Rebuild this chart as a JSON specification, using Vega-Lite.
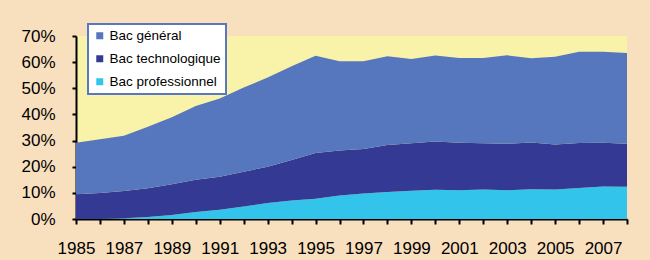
{
  "$schema": "https://vega.github.io/schema/vega-lite/v6.json",
  "autosize": {"type": "none"},
  "width": 551,
  "height": 183,
  "padding": {"left": 76, "top": 36, "right": 23, "bottom": 41},
  "background": "#F8DFBE",
  "config": {
    "view": {"fill": "#F8F3A8", "stroke": null},
    "font": "Liberation Sans",
    "legend": {"strokeWidth": 2}
  },
  "data": {
    "values": [
      {"year": 1985, "series": "Bac professionnel", "stackOrder": 1, "value": 0},
      {"year": 1986, "series": "Bac professionnel", "stackOrder": 1, "value": 0},
      {"year": 1987, "series": "Bac professionnel", "stackOrder": 1, "value": 0.3},
      {"year": 1988, "series": "Bac professionnel", "stackOrder": 1, "value": 0.8},
      {"year": 1989, "series": "Bac professionnel", "stackOrder": 1, "value": 1.5},
      {"year": 1990, "series": "Bac professionnel", "stackOrder": 1, "value": 2.7},
      {"year": 1991, "series": "Bac professionnel", "stackOrder": 1, "value": 3.5},
      {"year": 1992, "series": "Bac professionnel", "stackOrder": 1, "value": 4.8},
      {"year": 1993, "series": "Bac professionnel", "stackOrder": 1, "value": 6.1},
      {"year": 1994, "series": "Bac professionnel", "stackOrder": 1, "value": 7.1},
      {"year": 1995, "series": "Bac professionnel", "stackOrder": 1, "value": 7.7},
      {"year": 1996, "series": "Bac professionnel", "stackOrder": 1, "value": 9.0},
      {"year": 1997, "series": "Bac professionnel", "stackOrder": 1, "value": 9.8},
      {"year": 1998, "series": "Bac professionnel", "stackOrder": 1, "value": 10.3},
      {"year": 1999, "series": "Bac professionnel", "stackOrder": 1, "value": 10.8},
      {"year": 2000, "series": "Bac professionnel", "stackOrder": 1, "value": 11.2},
      {"year": 2001, "series": "Bac professionnel", "stackOrder": 1, "value": 11.0},
      {"year": 2002, "series": "Bac professionnel", "stackOrder": 1, "value": 11.3},
      {"year": 2003, "series": "Bac professionnel", "stackOrder": 1, "value": 11.0},
      {"year": 2004, "series": "Bac professionnel", "stackOrder": 1, "value": 11.4},
      {"year": 2005, "series": "Bac professionnel", "stackOrder": 1, "value": 11.3},
      {"year": 2006, "series": "Bac professionnel", "stackOrder": 1, "value": 11.9},
      {"year": 2007, "series": "Bac professionnel", "stackOrder": 1, "value": 12.4},
      {"year": 2008, "series": "Bac professionnel", "stackOrder": 1, "value": 12.3},
      {"year": 1985, "series": "Bac technologique", "stackOrder": 2, "value": 9.5},
      {"year": 1986, "series": "Bac technologique", "stackOrder": 2, "value": 9.9},
      {"year": 1987, "series": "Bac technologique", "stackOrder": 2, "value": 10.4},
      {"year": 1988, "series": "Bac technologique", "stackOrder": 2, "value": 11.0},
      {"year": 1989, "series": "Bac technologique", "stackOrder": 2, "value": 11.8},
      {"year": 1990, "series": "Bac technologique", "stackOrder": 2, "value": 12.3},
      {"year": 1991, "series": "Bac technologique", "stackOrder": 2, "value": 12.7},
      {"year": 1992, "series": "Bac technologique", "stackOrder": 2, "value": 13.3},
      {"year": 1993, "series": "Bac technologique", "stackOrder": 2, "value": 13.9},
      {"year": 1994, "series": "Bac technologique", "stackOrder": 2, "value": 15.5},
      {"year": 1995, "series": "Bac technologique", "stackOrder": 2, "value": 17.5},
      {"year": 1996, "series": "Bac technologique", "stackOrder": 2, "value": 17.2},
      {"year": 1997, "series": "Bac technologique", "stackOrder": 2, "value": 17.0},
      {"year": 1998, "series": "Bac technologique", "stackOrder": 2, "value": 18.0},
      {"year": 1999, "series": "Bac technologique", "stackOrder": 2, "value": 18.2},
      {"year": 2000, "series": "Bac technologique", "stackOrder": 2, "value": 18.4},
      {"year": 2001, "series": "Bac technologique", "stackOrder": 2, "value": 18.2},
      {"year": 2002, "series": "Bac technologique", "stackOrder": 2, "value": 17.7},
      {"year": 2003, "series": "Bac technologique", "stackOrder": 2, "value": 17.8},
      {"year": 2004, "series": "Bac technologique", "stackOrder": 2, "value": 17.9},
      {"year": 2005, "series": "Bac technologique", "stackOrder": 2, "value": 17.2},
      {"year": 2006, "series": "Bac technologique", "stackOrder": 2, "value": 17.2},
      {"year": 2007, "series": "Bac technologique", "stackOrder": 2, "value": 16.8},
      {"year": 2008, "series": "Bac technologique", "stackOrder": 2, "value": 16.5},
      {"year": 1985, "series": "Bac général", "stackOrder": 3, "value": 19.7},
      {"year": 1986, "series": "Bac général", "stackOrder": 3, "value": 20.6},
      {"year": 1987, "series": "Bac général", "stackOrder": 3, "value": 21.1},
      {"year": 1988, "series": "Bac général", "stackOrder": 3, "value": 23.5},
      {"year": 1989, "series": "Bac général", "stackOrder": 3, "value": 25.6},
      {"year": 1990, "series": "Bac général", "stackOrder": 3, "value": 28.2},
      {"year": 1991, "series": "Bac général", "stackOrder": 3, "value": 29.9},
      {"year": 1992, "series": "Bac général", "stackOrder": 3, "value": 32.2},
      {"year": 1993, "series": "Bac général", "stackOrder": 3, "value": 34.1},
      {"year": 1994, "series": "Bac général", "stackOrder": 3, "value": 35.8},
      {"year": 1995, "series": "Bac général", "stackOrder": 3, "value": 37.2},
      {"year": 1996, "series": "Bac général", "stackOrder": 3, "value": 34.1},
      {"year": 1997, "series": "Bac général", "stackOrder": 3, "value": 33.5},
      {"year": 1998, "series": "Bac général", "stackOrder": 3, "value": 34.0},
      {"year": 1999, "series": "Bac général", "stackOrder": 3, "value": 32.2},
      {"year": 2000, "series": "Bac général", "stackOrder": 3, "value": 32.9},
      {"year": 2001, "series": "Bac général", "stackOrder": 3, "value": 32.4},
      {"year": 2002, "series": "Bac général", "stackOrder": 3, "value": 32.6},
      {"year": 2003, "series": "Bac général", "stackOrder": 3, "value": 33.8},
      {"year": 2004, "series": "Bac général", "stackOrder": 3, "value": 32.2},
      {"year": 2005, "series": "Bac général", "stackOrder": 3, "value": 33.6},
      {"year": 2006, "series": "Bac général", "stackOrder": 3, "value": 34.9},
      {"year": 2007, "series": "Bac général", "stackOrder": 3, "value": 34.8},
      {"year": 2008, "series": "Bac général", "stackOrder": 3, "value": 34.7}
    ]
  },
  "mark": {"type": "area", "interpolate": "linear"},
  "encoding": {
    "x": {
      "field": "year",
      "type": "quantitative",
      "scale": {"domain": [1985, 2008], "nice": false, "zero": false},
      "axis": {
        "title": null,
        "values": [1985,1986,1987,1988,1989,1990,1991,1992,1993,1994,1995,1996,1997,1998,1999,2000,2001,2002,2003,2004,2005,2006,2007,2008],
        "labelExpr": "datum.value % 2 == 1 ? datum.value : ''",
        "grid": false,
        "domainColor": "#000000",
        "domainWidth": 2,
        "tickColor": "#000000",
        "tickWidth": 2,
        "tickSize": 5,
        "labelFontSize": 17,
        "labelColor": "#000000",
        "labelPadding": 16,
        "labelFlush": false,
        "labelOverlap": false
      }
    },
    "y": {
      "field": "value",
      "type": "quantitative",
      "stack": "zero",
      "scale": {"domain": [0, 70], "nice": false},
      "axis": {
        "title": null,
        "values": [0, 10, 20, 30, 40, 50, 60, 70],
        "labelExpr": "datum.value + '%'",
        "grid": false,
        "domainColor": "#000000",
        "domainWidth": 2,
        "tickColor": "#000000",
        "tickWidth": 2,
        "tickSize": 4,
        "labelFontSize": 17,
        "labelColor": "#000000",
        "labelPadding": 17,
        "labelFlush": false
      }
    },
    "order": {"field": "stackOrder", "type": "quantitative", "sort": "ascending"},
    "color": {
      "field": "series",
      "type": "nominal",
      "sort": ["Bac général", "Bac technologique", "Bac professionnel"],
      "scale": {
        "domain": ["Bac général", "Bac technologique", "Bac professionnel"],
        "range": ["#5677BD", "#343A94", "#33C4EC"]
      },
      "legend": {
        "title": null,
        "orient": "none",
        "legendX": 12,
        "legendY": -12,
        "symbolType": "square",
        "symbolSize": 49,
        "symbolStrokeWidth": 0,
        "labelFontSize": 13.5,
        "labelColor": "#000000",
        "labelOffset": 3,
        "rowPadding": 8,
        "padding": 5,
        "fillColor": "#FFFFFF",
        "strokeColor": "#5A78C2"
      }
    }
  }
}
